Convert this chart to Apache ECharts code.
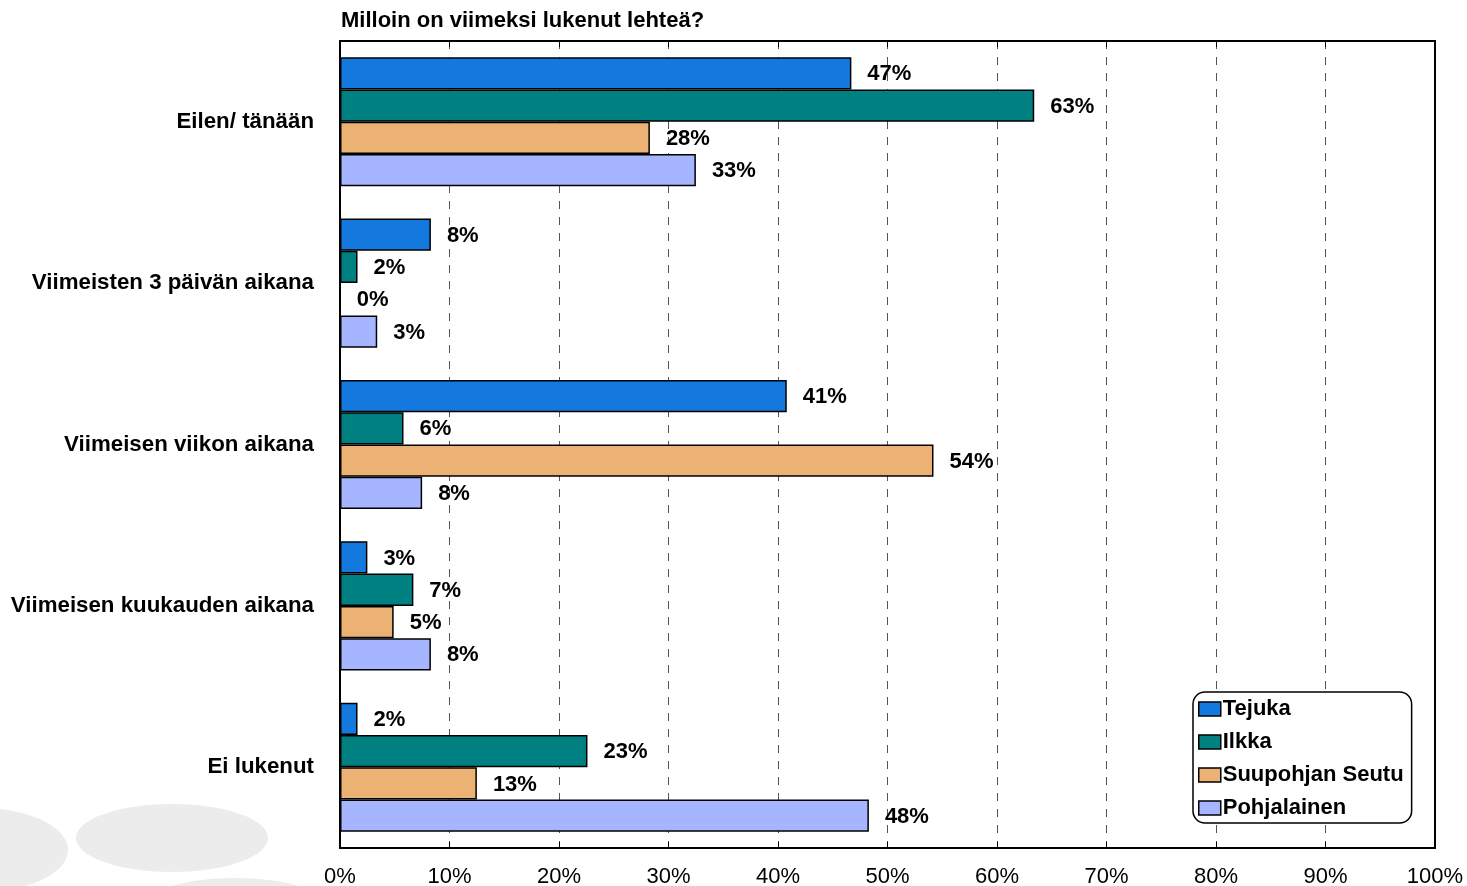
<!DOCTYPE html>
<html>
<head>
<meta charset="utf-8">
<script src="https://cdn.jsdelivr.net/npm/echarts@6/dist/echarts.min.js"></script>
<style>html,body{margin:0;padding:0;background:#fff;}#c{width:1467px;height:886px;}</style>
</head>
<body>
<div id="c"></div>
<script>
const title = 'Milloin on viimeksi lukenut lehteä?';
const categories = ['Eilen/ tänään', 'Viimeisten 3 päivän aikana', 'Viimeisen viikon aikana', 'Viimeisen kuukauden aikana', 'Ei lukenut'];
const seriesNames = ['Tejuka', 'Ilkka', 'Suupohjan Seutu', 'Pohjalainen'];
const tejuka = [46.7, 8.3, 40.8, 2.5, 1.6];
const ilkka = [63.4, 1.6, 5.8, 6.7, 22.6];
const suupohjan = [28.3, 0.0, 54.2, 4.9, 12.5];
const pohjalainen = [32.5, 3.4, 7.5, 8.3, 48.3];
const xTicks = [0, 10, 20, 30, 40, 50, 60, 70, 80, 90, 100];

const colors = ['#1479DE', '#008080', '#EBB273', '#A6B5FF'];
const values = [tejuka, ilkka, suupohjan, pohjalainen];
const font = '"Liberation Sans", Arial, sans-serif';

const chart = echarts.init(document.getElementById('c'), null, {renderer: 'canvas'});
chart.setOption({
  animation: false,
  backgroundColor: '#fff',
  title: {
    text: title, left: 336, top: 5,
    textStyle: {fontFamily: font, fontSize: 22, fontWeight: 'bold', color: '#000'}
  },
  graphic: [
    {type: 'ellipse', shape: {cx: 172, cy: 838, rx: 96, ry: 34}, style: {fill: '#ececec'}, z: -10},
    {type: 'ellipse', shape: {cx: -20, cy: 850, rx: 88, ry: 42}, style: {fill: '#ececec'}, z: -10},
    {type: 'ellipse', shape: {cx: 235, cy: 902, rx: 85, ry: 24}, style: {fill: '#ececec'}, z: -10}
  ],
  legend: {
    orient: 'vertical',
    left: 1193, top: 692,
    padding: [6, 8, 4, 5],
    itemGap: 11,
    itemWidth: 22, itemHeight: 14,
    borderColor: '#000', borderWidth: 1.5, borderRadius: 12,
    backgroundColor: '#fff',
    icon: 'rect',
    itemStyle: {borderColor: '#000', borderWidth: 1.5},
    textStyle: {fontFamily: font, fontSize: 22, fontWeight: 'bold', color: '#000', padding: [0, 0, 0, -3]},
    data: seriesNames
  },
  grid: {left: 340, right: 32, top: 41, bottom: 38, containLabel: false, outerBoundsMode: 'none'},
  xAxis: [{
    type: 'value', min: 0, max: 100, interval: 10, position: 'bottom',
    axisLine: {show: true, lineStyle: {color: '#000', width: 2}},
    axisTick: {show: true, inside: true, length: 6, lineStyle: {color: '#000'}},
    axisLabel: {formatter: v => xTicks.includes(v) ? v + '%' : '', fontFamily: font, fontSize: 22, color: '#000', margin: 18},
    splitLine: {show: true, lineStyle: {color: '#555', type: [8, 8], width: 1}}
  }, {
    type: 'value', min: 0, max: 100, interval: 10, position: 'top',
    axisLine: {show: true, lineStyle: {color: '#000', width: 2}},
    axisTick: {show: true, inside: true, length: 6, lineStyle: {color: '#000'}},
    axisLabel: {show: false},
    splitLine: {show: false}
  }],
  yAxis: [{
    type: 'category', data: categories, inverse: true,
    axisLine: {show: true, onZero: false, lineStyle: {color: '#000', width: 2}},
    axisTick: {show: false},
    axisLabel: {fontFamily: font, fontSize: 22.3, fontWeight: 'bold', color: '#000', margin: 26}
  }, {
    type: 'category', data: categories, inverse: true, position: 'right',
    axisLine: {show: true, onZero: false, lineStyle: {color: '#000', width: 2}},
    axisTick: {show: false}, axisLabel: {show: false}
  }],
  series: seriesNames.map((name, i) => ({
    name, type: 'bar', data: values[i],
    barGap: '0%', barCategoryGap: '20%',
    itemStyle: {color: colors[i], borderColor: '#000', borderWidth: 1.5},
    label: {
      show: true, position: 'right', distance: 16, offset: [0, 1],
      formatter: p => Math.round(p.value) + '%',
      fontFamily: font, fontSize: 22, fontWeight: 'bold', color: '#000'
    }
  }))
});
</script>
</body>
</html>
